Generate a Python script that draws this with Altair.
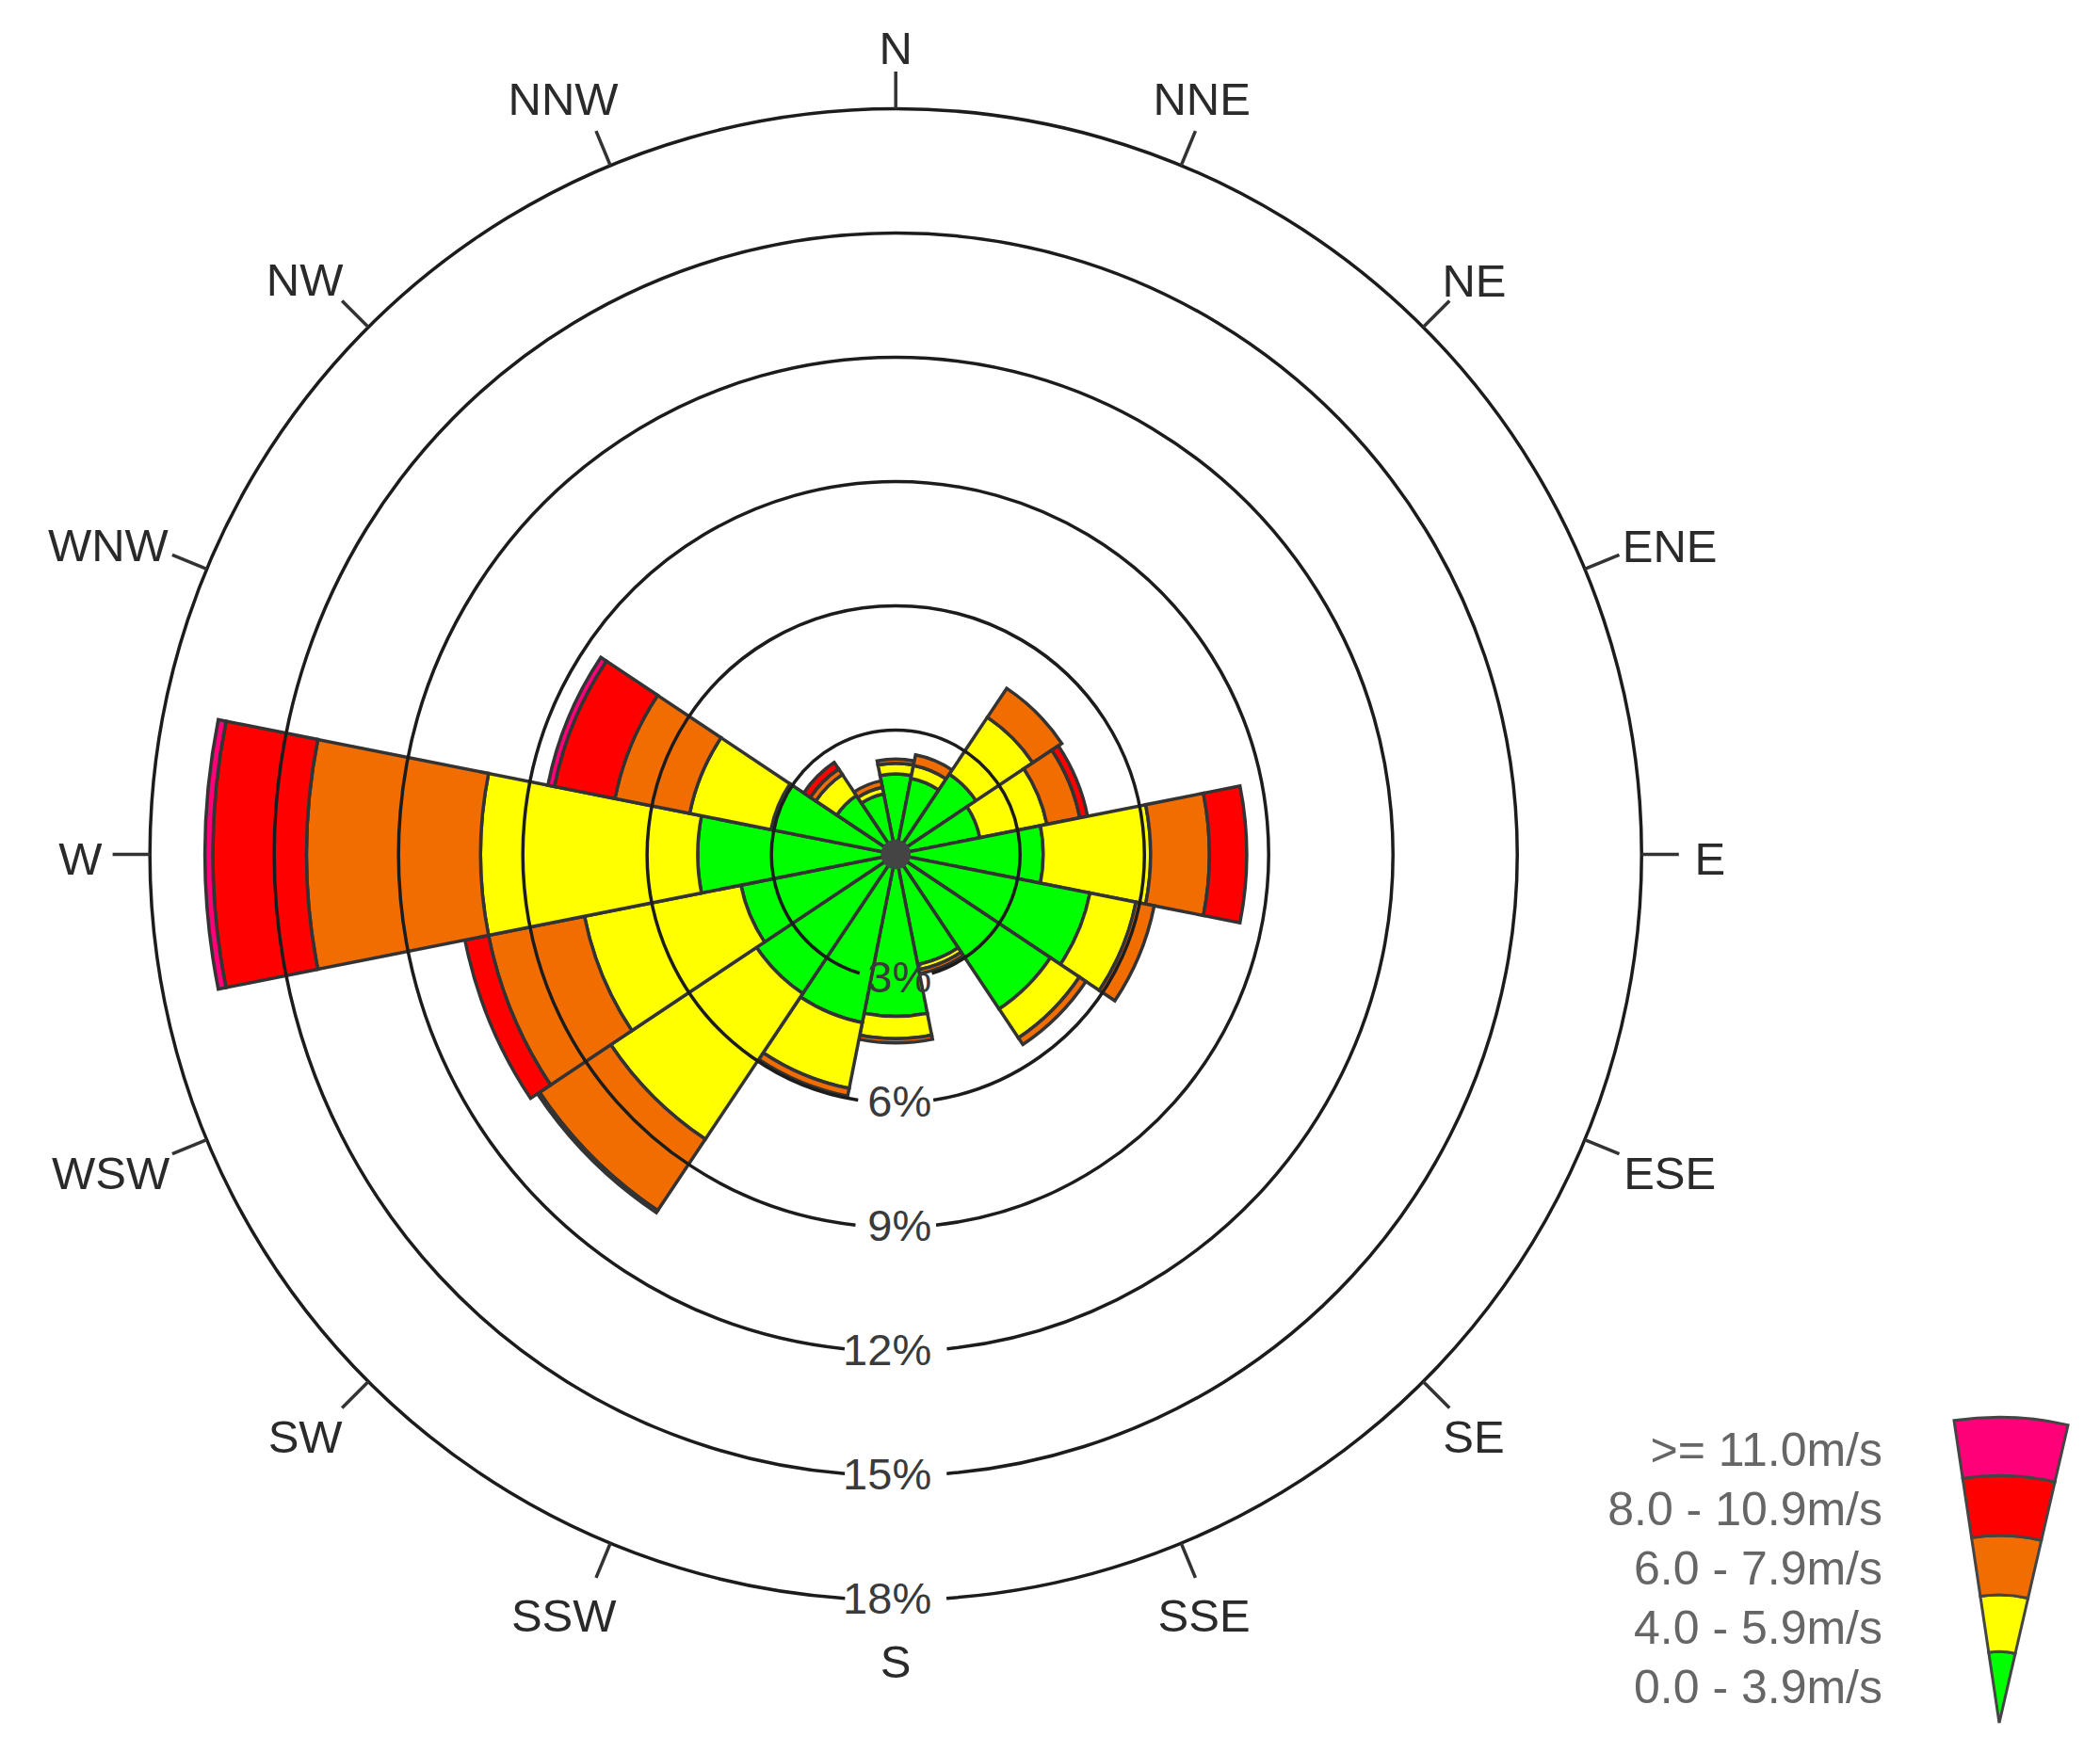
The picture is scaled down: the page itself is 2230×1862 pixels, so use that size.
import pandas as pd
import altair as alt

directions = ["N", "NNE", "NE", "ENE", "E", "ESE", "SE", "SSE",
              "S", "SSW", "SW", "WSW", "W", "WNW", "NW", "NNW"]

# frequency in % for each speed class, per direction
calm = [1.94, 1.87, 2.33, 2.07, 3.56, 4.78, 4.49, 2.71, 3.91, 4.14, 4.04, 3.81, 4.78, 3.07, 1.71, 1.49]
light = [0.26, 0.32, 1.65, 1.65, 2.59, 1.13, 0.84, 0.13, 0.54, 1.62, 4.23, 3.85, 5.24, 2.00, 0.61, 0.16]
moderate = [0.10, 0.26, 0.84, 0.81, 1.42, 0.45, 0.19, 0.10, 0.10, 0.19, 2.07, 2.36, 4.20, 1.84, 0.16, 0.16]
fresh = [0, 0, 0, 0.19, 0.90, 0, 0, 0, 0, 0, 0.06, 0.58, 2.26, 1.49, 0.19, 0]
strong = [0, 0, 0, 0, 0, 0, 0, 0, 0, 0, 0, 0, 0.19, 0.16, 0, 0]

speed_labels = ["0.0 - 3.9m/s", "4.0 - 5.9m/s", "6.0 - 7.9m/s", "8.0 - 10.9m/s", ">= 11.0m/s"]
speed_colors = ["#00ff00", "#ffff00", "#f26d00", "#ff0000", "#ff0078"]
speed_series = [calm, light, moderate, fresh, strong]

ring_values = [3, 6, 9, 12, 15, 18]
ring_gaps = [16.9, 8.7, 6.2, 5.9, 4.7, 3.9]  # half gap in degrees, room for the label

# where each compass label sits, on the polar scales
label_angle = [0, 22.1, 45.3, 68.4, 90.4, 112.5, 135.3, 158,
               180, 203.5, 225.3, 247.8, 269.6, 291.3, 314.1, 336.2]
label_radius = [19.42, 19.63, 19.64, 20.09, 19.65, 20.22, 19.83, 19.86,
                19.53, 20.09, 20.05, 20.46, 19.68, 20.40, 19.86, 19.89]

# legend funnel edges on the same radial scale
legend_edges = [0, 1.72, 3.09, 4.52, 5.97, 7.38]

CX, CY = 943.2, 899.5
LEG_X, LEG_Y = 2115, 1822
FONT = "Liberation Sans"

theta_scale = alt.Scale(domain=[0, 360], range=[0, 6.283185])
radius_scale = alt.Scale(domain=[0, 18], range=[0, 792], zero=False, nice=False)


def arc_encoding(data_mark):
    return data_mark.encode(
        theta=alt.Theta("t0:Q", scale=theta_scale, stack=None),
        theta2="t1:Q",
        radius=alt.Radius("r0:Q", scale=radius_scale, stack=None),
        radius2="r1:Q",
    )


# stacked wedges
rows = []
for i, name in enumerate(directions):
    low = 0
    for label, series in zip(speed_labels, speed_series):
        if series[i] > 0:
            rows.append({"dir": name, "speed": label, "t0": i * 22.5 - 11.25, "t1": i * 22.5 + 11.25,
                         "r0": low, "r1": low + series[i]})
        low += series[i]
wedges = pd.DataFrame(rows)

color = alt.Color("speed:N", scale=alt.Scale(domain=speed_labels, range=speed_colors), legend=None)

bars = arc_encoding(alt.Chart(wedges).mark_arc(stroke="#333333", strokeWidth=3.5)).encode(
    x=alt.value(CX), y=alt.value(CY), color=color)

rings = pd.DataFrame({"r0": ring_values, "r1": ring_values,
                      "t0": [180 + g for g in ring_gaps],
                      "t1": [540 - g for g in ring_gaps]})
ring_layer = arc_encoding(alt.Chart(rings).mark_arc(fillOpacity=0, stroke="#1c1c1c", strokeWidth=3.5)).encode(
    x=alt.value(CX), y=alt.value(CY))

tick_angles = [i * 22.5 for i in range(16) if directions[i] != "S"]
ticks = pd.DataFrame({"t0": tick_angles, "t1": tick_angles, "r0": 18.0, "r1": 18.9})
tick_layer = arc_encoding(alt.Chart(ticks).mark_arc(fillOpacity=0, stroke="#333333", strokeWidth=3.5)).encode(
    x=alt.value(CX), y=alt.value(CY))

hub = pd.DataFrame({"t0": [0], "t1": [360], "r0": [0], "r1": [0.36]})
hub_layer = arc_encoding(alt.Chart(hub).mark_arc(color="#444444")).encode(
    x=alt.value(CX), y=alt.value(CY))

compass = pd.DataFrame({"name": directions, "t": label_angle, "r": label_radius})
compass_layer = alt.Chart(compass).mark_text(font=FONT, fontSize=49, color="#2a2a2a", baseline="middle").encode(
    x=alt.value(CX), y=alt.value(CY),
    theta=alt.Theta("t:Q", scale=theta_scale, stack=None),
    radius=alt.Radius("r:Q", scale=radius_scale, stack=None),
    text="name:N",
)

ring_text = pd.DataFrame({"label": [f"{v}%" for v in ring_values], "t": 180, "r": ring_values})
ring_text_layer = alt.Chart(ring_text).mark_text(
    font=FONT, fontSize=47, color="#3a3a3a", baseline="middle", align="right", dx=38
).encode(
    x=alt.value(CX), y=alt.value(CY),
    theta=alt.Theta("t:Q", scale=theta_scale, stack=None),
    radius=alt.Radius("r:Q", scale=radius_scale, stack=None),
    text="label:N",
)

# legend
legend_df = pd.DataFrame({"speed": speed_labels, "r0": legend_edges[:-1], "r1": legend_edges[1:],
                          "t0": -8.5, "t1": 13.0})
legend_wedge = arc_encoding(alt.Chart(legend_df).mark_arc(stroke="#444444", strokeWidth=3)).encode(
    x=alt.value(LEG_X), y=alt.value(LEG_Y), color=color)

legend_text = alt.Chart(pd.DataFrame({"speed": speed_labels})).mark_text(
    font=FONT, fontSize=50, color="#666666", align="right", baseline="middle"
).encode(
    x=alt.value(1991),
    y=alt.Y("speed:N", axis=None,
            scale=alt.Scale(type="point", domain=speed_labels[::-1], range=[1534, 1786], padding=0)),
    text="speed:N",
)

chart = alt.layer(
    bars, ring_layer, tick_layer, hub_layer, compass_layer, ring_text_layer, legend_wedge, legend_text
).properties(
    width=2214, height=1846, padding=0, background="white",
    autosize=alt.AutoSizeParams(type="none"),
).configure_view(stroke=None)

chart.save("out.html", embed_options={"renderer": "svg", "actions": False})
